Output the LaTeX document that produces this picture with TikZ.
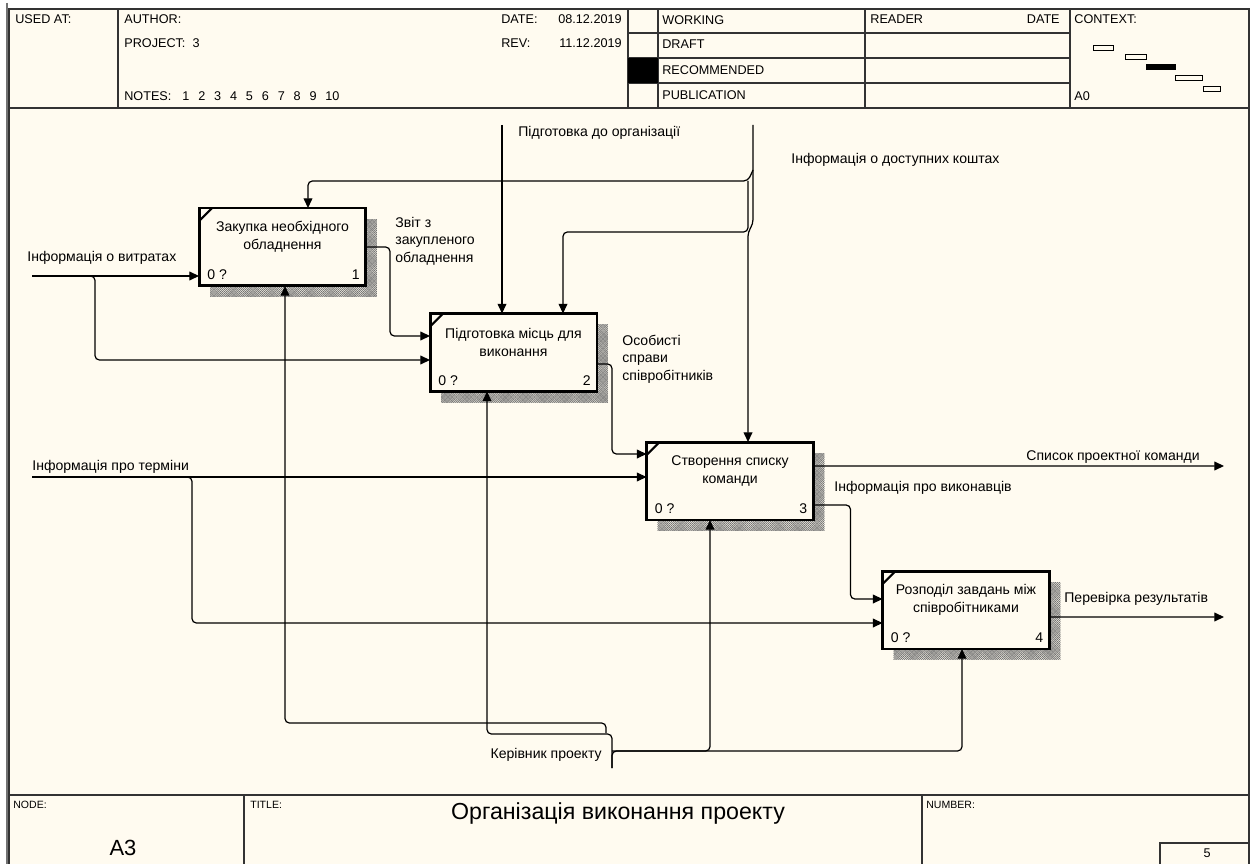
\documentclass[tikz,border=0pt]{standalone}
\usepackage{fontspec}
\setmainfont{Liberation Sans}
\usetikzlibrary{arrows.meta,shadows,patterns}

\definecolor{idefbg}{RGB}{255,251,240}

\pgfdeclarepatternformonly{idefhatch}{\pgfqpoint{-0.1pt}{-0.1pt}}{\pgfqpoint{1.3pt}{1.3pt}}{\pgfqpoint{1.2pt}{1.2pt}}{
  \pgfsetlinewidth{0.25pt}
  \pgfpathmoveto{\pgfqpoint{0pt}{0pt}}\pgfpathlineto{\pgfqpoint{1.2pt}{1.2pt}}
  \pgfpathmoveto{\pgfqpoint{0pt}{1.2pt}}\pgfpathlineto{\pgfqpoint{1.2pt}{0pt}}
  \pgfusepath{stroke}}

\newcommand{\lblfont}{\fontsize{8}{10}\selectfont}
\newcommand{\hdrfont}{\fontsize{7.2}{8.5}\selectfont}

\tikzset{
  actbox/.style={draw, line width=1.7pt, fill=idefbg, minimum width=3.34cm,
    minimum height=1.56cm, inner sep=0pt, outer sep=0pt,
    drop shadow={shadow xshift=0.22cm, shadow yshift=-0.22cm, opacity=1,
      pattern=idefhatch, pattern color=black!55}},
  acttext/.style={align=center, inner sep=0pt, font=\lblfont},
  boxnum/.style={inner sep=0pt, font=\lblfont},
  lbl/.style={anchor=west, align=left, inner sep=0pt, font=\lblfont},
  hdr/.style={anchor=base west, inner sep=0pt, font=\hdrfont},
  frm/.style={line width=0.9pt, draw=black!80},
  flow/.style={line width=0.7pt, rounded corners=2.5pt},
  arr/.style={flow, -{Triangle[length=5.5pt,width=5pt]}},
}

\begin{document}
\begin{tikzpicture}[x=0.02cm, y=-0.02cm]
  \useasboundingbox (0,0) rectangle (1253,864);

  % sheet and frame
  \fill[idefbg] (9,9) rectangle (1249,864);
  \draw[line width=1.6pt, black!55] (7,3) -- (7,864);
  \draw[frm] (9,864) -- (9,9) -- (1249,9) -- (1249,864);
  \draw[frm] (9,108) -- (1249,108);
  \foreach \xx in {118,628,658,865,1070}
    \draw[frm] (\xx,9) -- (\xx,108);
  \foreach \yy in {33,58,83}
    \draw[frm] (628,\yy) -- (1070,\yy);
  \fill (628,58) rectangle (658,83);

  % context boxes
  \draw[line width=0.5pt] (1093,45) rectangle (1113,50);
  \draw[line width=0.5pt] (1125,54) rectangle (1146,59);
  \fill (1146,64) rectangle (1176,70);
  \draw[line width=0.5pt] (1175,75) rectangle (1202,80);
  \draw[line width=0.5pt] (1203,86) rectangle (1220,91);

  % header texts
  \node[hdr] (hused) at (15,24) {USED AT:};
  \node[hdr] (hauth) at (124,24) {AUTHOR:};
  \node[hdr] (hproj) at (124,48) {PROJECT:\ \ 3};
  \node[hdr] (hnotes) at (124,101) {NOTES:};
  \foreach \k [count=\i] in {1,...,10}
    \node[hdr] (note\k) at ({182+15.9*(\i-1)},101) {\k};
  \node[hdr] (hdate) at (501,24) {DATE:};
  \node[hdr, anchor=base east] (hdatev) at (622,24) {08.12.2019};
  \node[hdr] (hrev) at (501,48) {REV:};
  \node[hdr, anchor=base east] (hrevv) at (622,48) {11.12.2019};
  \node[hdr] (hwork) at (662,25) {WORKING};
  \node[hdr] (hdraft) at (662,49) {DRAFT};
  \node[hdr] (hrec) at (662,75) {RECOMMENDED};
  \node[hdr] (hpub) at (662,100) {PUBLICATION};
  \node[hdr] (hread) at (870,24) {READER};
  \node[hdr, anchor=base east] (hrdate) at (1060,24) {DATE};
  \node[hdr] (hctx) at (1074,24) {CONTEXT:};
  \node[hdr] (hctxa) at (1074,101) {A0};

  % footer
  \draw[frm] (9,795) -- (1249,795);
  \draw[frm] (244,795) -- (244,864);
  \draw[frm] (922,795) -- (922,864);
  \draw[frm] (1160,864) -- (1160,843) -- (1249,843);
  \node[hdr, font=\fontsize{6}{7}\selectfont] (fnode) at (13,808) {NODE:};
  \node[hdr, font=\fontsize{6}{7}\selectfont] (ftitle) at (250,808) {TITLE:};
  \node[hdr, font=\fontsize{6}{7}\selectfont] (fnum) at (926,808) {NUMBER:};
  \node[inner sep=0pt, font=\fontsize{12.5}{14}\selectfont] (fa3) at (123,848) {A3};
  \node[inner sep=0pt, font=\fontsize{13.2}{15}\selectfont] (fname) at (618,813) {Організація виконання проекту};
  \node[inner sep=0pt, font=\hdrfont] (fpage) at (1207,853) {5};

  % activity boxes
  \node[actbox] (b1) at (282.5,247) {};
  \node[actbox] (b2) at (513.5,352.5) {};
  \node[actbox] (b3) at (730,481) {};
  \node[actbox] (b4) at (966,610) {};
  \node[acttext] (b1t) at ([yshift=-0.58cm]b1.north) {Закупка необхідного\\обладнення};
  \node[acttext] (b2t) at ([yshift=-0.58cm]b2.north) {Підготовка місць для\\виконання};
  \node[acttext] (b3t) at ([yshift=-0.58cm]b3.north) {Створення списку\\команди};
  \node[acttext] (b4t) at ([yshift=-0.58cm]b4.north) {Розподіл завдань між\\співробітниками};
  \foreach \b/\n in {b1/1,b2/2,b3/3,b4/4} {
    \draw[line width=1.2pt] ([yshift=-0.26cm]\b.north west) -- ([xshift=0.26cm]\b.north west);
    \node[boxnum, anchor=base west] (\b q) at ([shift={(0.16cm,0.12cm)}]\b.south west) {0 ?};
    \node[boxnum, anchor=base east] (\b n) at ([shift={(-0.12cm,0.12cm)}]\b.south east) {\n};
  }

  % free ends and junctions
  \coordinate (vytr) at (32,276);
  \coordinate (vytrb) at (88,276);
  \coordinate (prep) at (502,125);
  \coordinate (kosh) at (753,125);
  \coordinate (koshB) at (748,181);
  \coordinate (koshA) at (748,232);
  \coordinate (term) at (32,477);
  \coordinate (termb) at (182,477);
  \coordinate (spys) at (1224,466);
  \coordinate (perev) at (1224,617);
  \coordinate (kerv) at (612,768);
  \coordinate (kervR) at (612,751);
  \coordinate (kervL) at (612,734);
  \coordinate (kervT) at (606,723);

  % inputs
  \draw[arr] (vytr) -- (vytr -| b1.west);
  \draw[arr] (vytrb) -- ++(7,0) |- ([yshift=-0.15cm]b2.west);
  \draw[arr] (b1.east) -- ++(24,0) |- ([yshift=0.33cm]b2.west);
  \draw[arr] ([yshift=-0.23cm]b2.east) -- ++(15,0) |- ([yshift=0.54cm]b3.west);
  \draw[arr] (term) -- (term -| b3.west);
  \draw[arr] (termb) -- ++(10,0) |- ([yshift=-0.26cm]b4.west);
  \draw[arr] ([yshift=-0.48cm]b3.east) -- ++(37,0) |- ([yshift=0.22cm]b4.west);

  % controls
  \draw[arr] (prep) -- (prep |- b2.north);
  \draw[arr] (kosh) -- ++(0,99) -- (koshA) -- (koshA |- b3.north);
  \draw[arr] ([yshift=-0.9cm]kosh) -- (koshB) -| ([xshift=0.51cm]b1.north);
  \draw[arr] (koshB) -- (koshA) -| ([xshift=0.99cm]b2.north);

  % outputs
  \draw[arr] ([yshift=0.3cm]b3.east) -- (spys);
  \draw[arr] ([yshift=-0.14cm]b4.east) -- (perev);

  % mechanism
  \draw[arr] (kerv) -- (kervR) -| ([xshift=-0.08cm]b4.south);
  \draw[arr] (kervR) -| ([xshift=-0.4cm]b3.south);
  \draw[arr] (kerv) -- (kervL) -| ([xshift=-0.53cm]b2.south);
  \draw[arr] ([yshift=-0.2cm]kervT) -- (kervT) -| ([xshift=0.05cm]b1.south);

  % arrow labels
  \node[lbl] (lvytr) at (27,258) {Інформація о витратах};
  \node[lbl] (lzvit) at (395,241) {Звіт з\\закупленого\\обладнення};
  \node[lbl] (lprep) at (518,133) {Підготовка до організації};
  \node[lbl] (lkosh) at (791,160) {Інформація о доступних коштах};
  \node[lbl] (lspr) at (622,359) {Особисті\\справи\\співробітників};
  \node[lbl] (lterm) at (32,467) {Інформація про терміни};
  \node[lbl, anchor=east] (lspys) at (1200,457) {Список проектної команди};
  \node[lbl] (lvyk) at (834,488) {Інформація про виконавців};
  \node[lbl] (lperev) at (1064,599) {Перевірка результатів};
  \node[lbl, anchor=east] (lkerv) at (602,755) {Керівник проекту};
\end{tikzpicture}
\end{document}
